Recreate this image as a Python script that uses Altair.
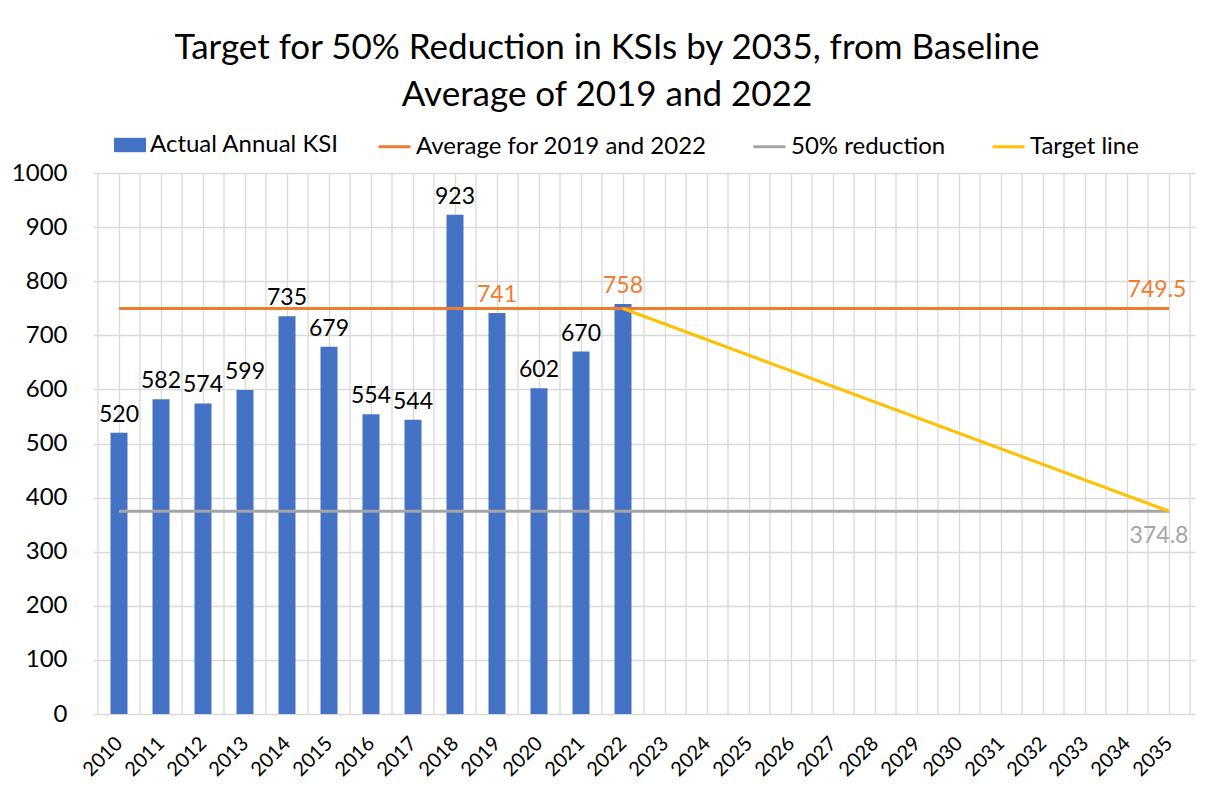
import altair as alt
import pandas as pd

# ---- data ----
bar_years = [2010, 2011, 2012, 2013, 2014, 2015, 2016, 2017, 2018, 2019, 2020, 2021, 2022]
ksi_values = [520, 582, 574, 599, 735, 679, 554, 544, 923, 741, 602, 670, 758]

axis_years = [2010, 2011, 2012, 2013, 2014, 2015, 2016, 2017, 2018, 2019, 2020, 2021, 2022,
              2023, 2024, 2025, 2026, 2027, 2028, 2029, 2030, 2031, 2032, 2033, 2034, 2035]

avg_years = [2010, 2035]
avg_values = [749.5, 749.5]
red_years = [2010, 2035]
red_values = [374.75, 374.75]
target_years = [2022, 2035]
target_values = [749.5, 374.75]

bar_name = "Actual Annual KSI"
line_names = ["Average for 2019 and 2022", "50% reduction", "Target line"]
highlight_years = [2019, 2022]

title_lines = ["Target for 50% Reduction in KSIs by 2035, from Baseline",
               "Average of 2019 and 2022"]

FONT = "Lato"
BLUE = "#4472C4"
ORANGE = "#ED7D31"
GRAY = "#A5A5A5"
YELLOW = "#FFC000"
GRID = "#D9D9D9"

bars = pd.DataFrame({"year": bar_years, "ksi": ksi_values, "series": bar_name,
                     "hl": [y in highlight_years for y in bar_years]})
lines = pd.DataFrame({
    "year": avg_years + red_years + target_years,
    "value": avg_values + red_values + target_values,
    "series": [line_names[0]] * 2 + [line_names[1]] * 2 + [line_names[2]] * 2,
})
end_labels = pd.DataFrame({
    "year": [avg_years[-1], red_years[-1]],
    "value": [avg_values[-1], red_values[-1]],
    "series": line_names[:2],
})

# category boundaries (half-way between years) for the vertical grid
boundaries = pd.DataFrame({"b": [axis_years[0] - 0.5] + [y + 0.5 for y in axis_years]})

x_scale = alt.Scale(domain=[axis_years[0] - 0.5, axis_years[-1] + 0.5], nice=False, zero=False)
y_scale = alt.Scale(domain=[0, 1000], nice=False)

x_axis = alt.Axis(values=axis_years, format="d",
                  labelAngle=315, labelAlign="right", labelBaseline="middle",
                  labelPadding=26, labelFontSize=20, labelFont=FONT, labelColor="#000",
                  labelOverlap=False, labelFlush=False, ticks=False, domain=False,
                  grid=True, gridColor=GRID, gridWidth=1.3, title=None)
y_axis = alt.Axis(values=list(range(0, 1001, 100)), format="d", labelFontSize=24,
                  labelFont=FONT, labelColor="#000", labelPadding=26, ticks=False,
                  domain=False, grid=True, gridColor=GRID, gridWidth=1.3, title=None)

grid_layer = alt.Chart(boundaries).mark_rule(color=GRID, strokeWidth=1.3).encode(
    x=alt.X("b:Q", scale=x_scale, axis=x_axis),
)

bar_layer = alt.Chart(bars).mark_bar(size=17).encode(
    x=alt.X("year:Q", scale=x_scale, axis=x_axis),
    y=alt.Y("ksi:Q", scale=y_scale, axis=y_axis),
    fill=alt.Fill("series:N", scale=alt.Scale(domain=[bar_name], range=[BLUE]),
                  legend=alt.Legend(orient="none", legendX=21, legendY=-44, title=None,
                                    symbolType="M-1,-0.45H1V0.45H-1Z", symbolSize=1024,
                                    symbolStrokeWidth=0, labelFont=FONT, labelFontSize=24,
                                    labelColor="#000", labelOffset=4, labelLimit=500,
                                    padding=0)),
)

bar_text = alt.Chart(bars).mark_text(baseline="alphabetic", dy=-11, fontSize=23,
                                      font=FONT).encode(
    x="year:Q",
    y="ksi:Q",
    text="ksi:Q",
    color=alt.condition("datum.hl", alt.value(ORANGE), alt.value("#000")),
)

line_layer = alt.Chart(lines).mark_line(strokeWidth=3).encode(
    x="year:Q",
    y="value:Q",
    stroke=alt.Stroke("series:N",
                      scale=alt.Scale(domain=line_names, range=[ORANGE, GRAY, YELLOW]),
                      legend=alt.Legend(orient="none", legendX=284, legendY=-44, title=None,
                                        direction="horizontal", columns=3, columnPadding=40,
                                        symbolType="stroke", symbolSize=1024,
                                        symbolStrokeWidth=3, labelFont=FONT, labelFontSize=24,
                                        labelColor="#000", labelOffset=4, labelLimit=500,
                                        padding=0)),
    detail="series:N",
)

avg_text = alt.Chart(end_labels.iloc[[0]]).mark_text(
    baseline="alphabetic", dy=-12, dx=-12, fontSize=23, font=FONT, color=ORANGE).encode(
    x="year:Q", y="value:Q", text=alt.Text("value:Q", format=".1f"))
red_text = alt.Chart(end_labels.iloc[[1]]).mark_text(
    baseline="top", dy=14, dx=-10, fontSize=23, font=FONT, color=GRAY).encode(
    x="year:Q", y="value:Q", text=alt.Text("value:Q", format=".1f"))

chart = alt.layer(grid_layer, bar_layer, line_layer, bar_text, avg_text, red_text).resolve_scale(
    color="independent"
).properties(
    width=1102, height=541,
    title=alt.TitleParams(title_lines, font=FONT, fontSize=35, fontWeight="normal",
                          color="#000", anchor="middle", dx=-37, lineHeight=47, offset=16),
    autosize=alt.AutoSizeParams(type="none"),
    padding={"left": 85, "top": 165, "right": 10, "bottom": 80},
).configure_view(stroke=None)

chart.save("out.html", embed_options={"renderer": "svg", "actions": False})
